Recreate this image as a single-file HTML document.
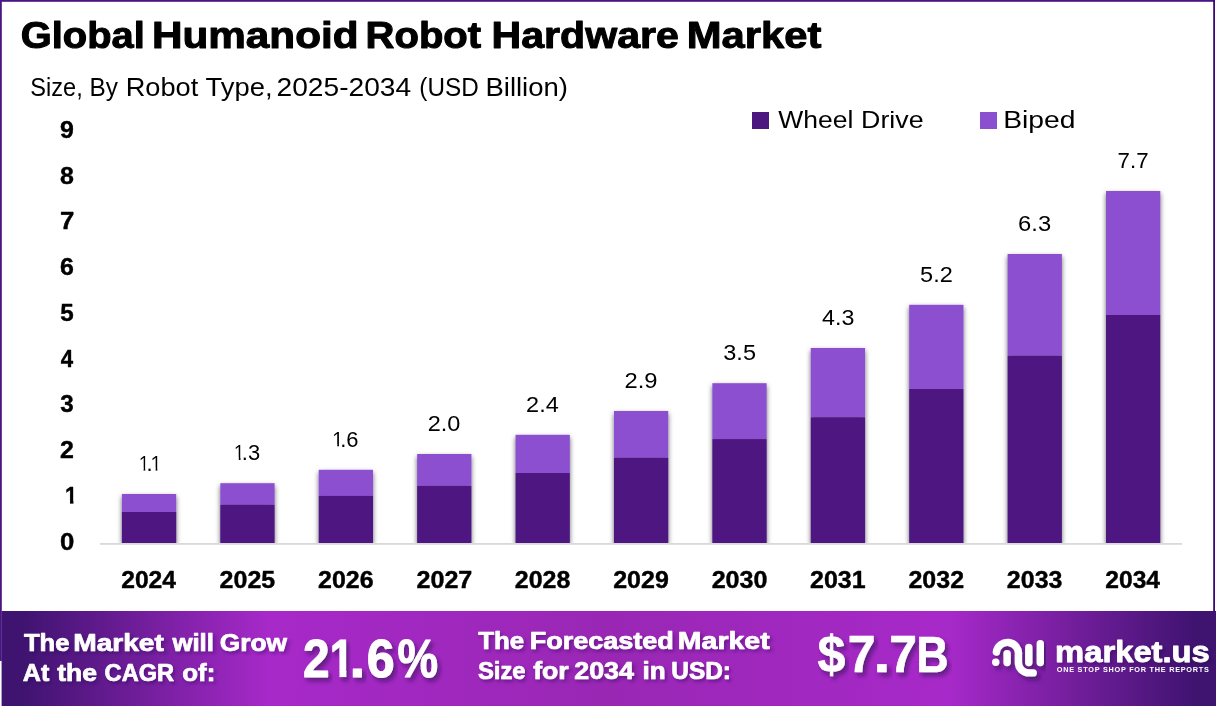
<!DOCTYPE html>
<html lang="en"><head><meta charset="utf-8"><title>Global Humanoid Robot Hardware Market</title>
<style>
html,body{margin:0;padding:0;background:#fff;}
body{width:1216px;height:706px;overflow:hidden;font-family:"Liberation Sans", sans-serif;}
svg{display:block;font-family:"Liberation Sans", sans-serif;}
text{white-space:pre;}
</style></head><body>
<svg width="1216" height="706" viewBox="0 0 1216 706">
<defs>
<linearGradient id="bg" x1="0" y1="0" x2="1" y2="0">
<stop offset="0" stop-color="#3f1370"/><stop offset="0.0165" stop-color="#3f1370"/>
<stop offset="0.22" stop-color="#a729c9"/>
<stop offset="0.5" stop-color="#9927b4"/>
<stop offset="0.78" stop-color="#a729c9"/>
<stop offset="0.9835" stop-color="#3f1370"/><stop offset="1" stop-color="#3f1370"/>
</linearGradient>
<clipPath id="plot"><rect x="90" y="100" width="1110" height="443"/></clipPath>
<filter id="bs" filterUnits="userSpaceOnUse" x="90" y="100" width="1110" height="460"><feDropShadow dx="0" dy="2.5" stdDeviation="2.7" flood-color="#000" flood-opacity="0.6"/></filter>
<filter id="ts" x="-10%" y="-30%" width="120%" height="180%"><feDropShadow dx="2" dy="2.5" stdDeviation="1.8" flood-color="#2a0a50" flood-opacity="0.4"/></filter>
<filter id="tsb" x="-10%" y="-30%" width="120%" height="180%"><feDropShadow dx="3" dy="3.5" stdDeviation="2.2" flood-color="#2a0a50" flood-opacity="0.6"/></filter>
<clipPath id="c1r22_50"><path d="M1.66 -18.00H7.70V0.00H5.61V-2.48H1.66Z"/></clipPath><clipPath id="c1b240_4"><path d="M0.94 -19.20H9.14V0.00H5.35V-3.45H0.94Z"/></clipPath><clipPath id="c1b53_51"><path d="M2.66 -42.80H20.38V0.00H11.94V-6.76H2.66Z"/></clipPath>
</defs>
<rect x="0" y="0" width="1216" height="706" fill="#fff"/>
<!-- frame -->
<rect x="0" y="0" width="1215" height="1.8" fill="#4b1684"/>
<rect x="0" y="0" width="1.8" height="661" fill="#4b1684"/>
<rect x="1213.2" y="0" width="1.8" height="612" fill="#3c0878"/>
<!-- banner -->
<rect x="1.6" y="611" width="1214.4" height="95" fill="url(#bg)"/>
<!-- axis -->
<g clip-path="url(#plot)">
<g filter="url(#bs)"><rect x="121.9" y="494" width="54.3" height="18" fill="#8b50cf"/><rect x="121.9" y="512" width="54.3" height="31" fill="#4d1780"/></g>
<g filter="url(#bs)"><rect x="220.31" y="483.2" width="54.3" height="21.600000000000023" fill="#8b50cf"/><rect x="220.31" y="504.8" width="54.3" height="38.19999999999999" fill="#4d1780"/></g>
<g filter="url(#bs)"><rect x="318.72" y="469.8" width="54.3" height="26.099999999999966" fill="#8b50cf"/><rect x="318.72" y="495.9" width="54.3" height="47.10000000000002" fill="#4d1780"/></g>
<g filter="url(#bs)"><rect x="417.13" y="454" width="54.3" height="31.899999999999977" fill="#8b50cf"/><rect x="417.13" y="485.9" width="54.3" height="57.10000000000002" fill="#4d1780"/></g>
<g filter="url(#bs)"><rect x="515.54" y="434.8" width="54.3" height="38.19999999999999" fill="#8b50cf"/><rect x="515.54" y="473" width="54.3" height="70" fill="#4d1780"/></g>
<g filter="url(#bs)"><rect x="613.95" y="411" width="54.3" height="46.80000000000001" fill="#8b50cf"/><rect x="613.95" y="457.8" width="54.3" height="85.19999999999999" fill="#4d1780"/></g>
<g filter="url(#bs)"><rect x="712.36" y="383.2" width="54.3" height="55.900000000000034" fill="#8b50cf"/><rect x="712.36" y="439.1" width="54.3" height="103.89999999999998" fill="#4d1780"/></g>
<g filter="url(#bs)"><rect x="810.77" y="348" width="54.3" height="69.30000000000001" fill="#8b50cf"/><rect x="810.77" y="417.3" width="54.3" height="125.69999999999999" fill="#4d1780"/></g>
<g filter="url(#bs)"><rect x="909.18" y="304.8" width="54.3" height="84.19999999999999" fill="#8b50cf"/><rect x="909.18" y="389" width="54.3" height="154" fill="#4d1780"/></g>
<g filter="url(#bs)"><rect x="1007.59" y="254" width="54.3" height="101.80000000000001" fill="#8b50cf"/><rect x="1007.59" y="355.8" width="54.3" height="187.2" fill="#4d1780"/></g>
<g filter="url(#bs)"><rect x="1106.0" y="191" width="54.3" height="124" fill="#8b50cf"/><rect x="1106.0" y="315" width="54.3" height="228" fill="#4d1780"/></g>
</g>
<rect x="100" y="543" width="1082" height="1.8" fill="#d9d9d9"/>
<rect x="752" y="112" width="17" height="17" fill="#4d1780"/>
<rect x="980" y="112" width="17" height="17" fill="#8b50cf"/>
<!-- logo -->
<g filter="url(#tsb)" fill="none" stroke="#fff" stroke-width="7.4" stroke-linecap="round" stroke-linejoin="round">
<circle cx="995.7" cy="662.2" r="3.7" fill="#fff" stroke="none"/>
<path d="M996.4 652.0 A11.1 11.1 0 0 1 1018.4 655 L1018.4 662.4 A10.5 10.5 0 0 0 1028.9 672.9 L1033.2 672.9"/>
<path d="M1007.1 653.6 V662.6"/>
<path d="M1028.8 647.5 V662.6"/>
<path d="M1040.3 643.8 V662.6"/>
</g>
<text transform="translate(20.70 48.00) scale(1.1018 1)" font-size="36.2" font-weight="700" fill="#000" stroke="#000" stroke-width="1.0" stroke-linejoin="round">Global</text>
<text transform="translate(151.94 48.00) scale(1.1679 1)" font-size="36.2" font-weight="700" fill="#000" stroke="#000" stroke-width="1.0" stroke-linejoin="round">Humanoid</text>
<text transform="translate(365.55 48.00) scale(1.1058 1)" font-size="36.2" font-weight="700" fill="#000" stroke="#000" stroke-width="1.0" stroke-linejoin="round">Robot</text>
<text transform="translate(491.60 48.00) scale(1.1350 1)" font-size="36.2" font-weight="700" fill="#000" stroke="#000" stroke-width="1.0" stroke-linejoin="round">Hardware</text>
<text transform="translate(686.67 48.00) scale(1.1540 1)" font-size="36.2" font-weight="700" fill="#000" stroke="#000" stroke-width="1.0" stroke-linejoin="round">Market</text>
<text transform="translate(30.36 96.20) scale(0.9065 1)" font-size="26" font-weight="400" fill="#000">Size,</text>
<text transform="translate(89.50 96.20) scale(0.9360 1)" font-size="26" font-weight="400" fill="#000">By</text>
<text transform="translate(125.67 96.20) scale(1.0469 1)" font-size="26" font-weight="400" fill="#000">Robot</text>
<text transform="translate(205.57 96.20) scale(1.0532 1)" font-size="26" font-weight="400" fill="#000">Type,</text>
<text transform="translate(276.58 96.20) scale(1.0827 1)" font-size="26" font-weight="400" fill="#000">2025-2034</text>
<text transform="translate(419.36 96.20) scale(0.9344 1)" font-size="26" font-weight="400" fill="#000">(USD</text>
<text transform="translate(485.45 96.20) scale(1.0583 1)" font-size="26" font-weight="400" fill="#000">Billion)</text>
<text transform="translate(778.30 127.90) scale(1.1047 1)" font-size="24" font-weight="400" fill="#000">Wheel</text>
<text transform="translate(861.11 127.90) scale(1.1156 1)" font-size="24" font-weight="400" fill="#000">Drive</text>
<text transform="translate(1003.19 127.90) scale(1.1778 1)" font-size="24" font-weight="400" fill="#000">Biped</text>
<g aria-label="1.1"><g transform="translate(138.66 470.70) scale(0.8756 1)"><text clip-path="url(#c1r22_50)" font-size="22.5" font-weight="400" fill="#000">1</text></g><text transform="translate(146.54 470.70) scale(0.9752 1)" font-size="22.5" font-weight="400" fill="#000">.</text><g transform="translate(150.48 470.70) scale(0.9120 1)"><text clip-path="url(#c1r22_50)" font-size="22.5" font-weight="400" fill="#000">1</text></g></g>
<text transform="translate(121.19 587.80) scale(1.0481 1)" font-size="23.5" font-weight="700" fill="#000" stroke="#000" stroke-width="0.4" stroke-linejoin="round">2024</text>
<g aria-label="1.3"><g transform="translate(233.87 459.90) scale(0.8756 1)"><text clip-path="url(#c1r22_50)" font-size="22.5" font-weight="400" fill="#000">1</text></g><text transform="translate(241.85 459.90) scale(0.9755 1)" font-size="22.5" font-weight="400" fill="#000">.3</text></g>
<text transform="translate(219.59 587.80) scale(1.0631 1)" font-size="23.5" font-weight="700" fill="#000" stroke="#000" stroke-width="0.4" stroke-linejoin="round">2025</text>
<g aria-label="1.6"><g transform="translate(332.28 446.50) scale(0.8756 1)"><text clip-path="url(#c1r22_50)" font-size="22.5" font-weight="400" fill="#000">1</text></g><text transform="translate(340.26 446.50) scale(0.9755 1)" font-size="22.5" font-weight="400" fill="#000">.6</text></g>
<text transform="translate(318.00 587.80) scale(1.0631 1)" font-size="23.5" font-weight="700" fill="#000" stroke="#000" stroke-width="0.4" stroke-linejoin="round">2026</text>
<text transform="translate(427.68 430.70) scale(1.0451 1)" font-size="22.5" font-weight="400" fill="#000">2.0</text>
<text transform="translate(416.41 587.80) scale(1.0708 1)" font-size="23.5" font-weight="700" fill="#000" stroke="#000" stroke-width="0.4" stroke-linejoin="round">2027</text>
<text transform="translate(526.09 411.50) scale(1.0451 1)" font-size="22.5" font-weight="400" fill="#000">2.4</text>
<text transform="translate(514.82 587.80) scale(1.0631 1)" font-size="23.5" font-weight="700" fill="#000" stroke="#000" stroke-width="0.4" stroke-linejoin="round">2028</text>
<text transform="translate(624.48 387.70) scale(1.0576 1)" font-size="22.5" font-weight="400" fill="#000">2.9</text>
<text transform="translate(613.23 587.80) scale(1.0631 1)" font-size="23.5" font-weight="700" fill="#000" stroke="#000" stroke-width="0.4" stroke-linejoin="round">2029</text>
<text transform="translate(723.28 359.90) scale(1.0451 1)" font-size="22.5" font-weight="400" fill="#000">3.5</text>
<text transform="translate(711.64 587.80) scale(1.0708 1)" font-size="23.5" font-weight="700" fill="#000" stroke="#000" stroke-width="0.4" stroke-linejoin="round">2030</text>
<text transform="translate(822.06 324.70) scale(1.0328 1)" font-size="22.5" font-weight="400" fill="#000">4.3</text>
<text transform="translate(810.05 587.80) scale(1.0631 1)" font-size="23.5" font-weight="700" fill="#000" stroke="#000" stroke-width="0.4" stroke-linejoin="round">2031</text>
<text transform="translate(920.10 281.50) scale(1.0451 1)" font-size="22.5" font-weight="400" fill="#000">5.2</text>
<text transform="translate(908.46 587.80) scale(1.0631 1)" font-size="23.5" font-weight="700" fill="#000" stroke="#000" stroke-width="0.4" stroke-linejoin="round">2032</text>
<text transform="translate(1018.12 230.70) scale(1.0576 1)" font-size="22.5" font-weight="400" fill="#000">6.3</text>
<text transform="translate(1006.87 587.80) scale(1.0631 1)" font-size="23.5" font-weight="700" fill="#000" stroke="#000" stroke-width="0.4" stroke-linejoin="round">2033</text>
<text transform="translate(1117.61 167.70) scale(0.9894 1)" font-size="22.5" font-weight="400" fill="#000">7.7</text>
<text transform="translate(1105.29 587.80) scale(1.0481 1)" font-size="23.5" font-weight="700" fill="#000" stroke="#000" stroke-width="0.4" stroke-linejoin="round">2034</text>
<text transform="translate(59.91 549.60) scale(1.0728 1)" font-size="24" font-weight="700" fill="#000" stroke="#000" stroke-width="0.4" stroke-linejoin="round">0</text>
<g transform="translate(65.08 503.86) scale(0.9146 1)"><text clip-path="url(#c1b240_4)" font-size="24" font-weight="700" fill="#000" stroke="#000" stroke-width="0.4" stroke-linejoin="round">1</text></g>
<text transform="translate(59.93 458.12) scale(1.0403 1)" font-size="24" font-weight="700" fill="#000" stroke="#000" stroke-width="0.4" stroke-linejoin="round">2</text>
<text transform="translate(60.32 412.38) scale(1.0098 1)" font-size="24" font-weight="700" fill="#000" stroke="#000" stroke-width="0.4" stroke-linejoin="round">3</text>
<text transform="translate(60.69 366.64) scale(0.9281 1)" font-size="24" font-weight="700" fill="#000" stroke="#000" stroke-width="0.4" stroke-linejoin="round">4</text>
<text transform="translate(60.32 320.90) scale(1.0098 1)" font-size="24" font-weight="700" fill="#000" stroke="#000" stroke-width="0.4" stroke-linejoin="round">5</text>
<text transform="translate(59.93 275.16) scale(1.0403 1)" font-size="24" font-weight="700" fill="#000" stroke="#000" stroke-width="0.4" stroke-linejoin="round">6</text>
<text transform="translate(59.91 229.42) scale(1.0728 1)" font-size="24" font-weight="700" fill="#000" stroke="#000" stroke-width="0.4" stroke-linejoin="round">7</text>
<text transform="translate(59.93 183.68) scale(1.0403 1)" font-size="24" font-weight="700" fill="#000" stroke="#000" stroke-width="0.4" stroke-linejoin="round">8</text>
<text transform="translate(59.93 137.94) scale(1.0403 1)" font-size="24" font-weight="700" fill="#000" stroke="#000" stroke-width="0.4" stroke-linejoin="round">9</text>
<text transform="translate(23.97 651.00) scale(1.0662 1)" font-size="24" font-weight="700" fill="#fff" stroke="#fff" stroke-width="0.7" stroke-linejoin="round" filter="url(#ts)">The</text>
<text transform="translate(73.25 651.00) scale(1.1720 1)" font-size="24" font-weight="700" fill="#fff" stroke="#fff" stroke-width="0.7" stroke-linejoin="round" filter="url(#ts)">Market</text>
<text transform="translate(172.38 651.00) scale(1.0749 1)" font-size="24" font-weight="700" fill="#fff" stroke="#fff" stroke-width="0.7" stroke-linejoin="round" filter="url(#ts)">will</text>
<text transform="translate(219.76 651.00) scale(1.0983 1)" font-size="24" font-weight="700" fill="#fff" stroke="#fff" stroke-width="0.7" stroke-linejoin="round" filter="url(#ts)">Grow</text>
<text transform="translate(22.77 680.60) scale(1.0457 1)" font-size="24" font-weight="700" fill="#fff" stroke="#fff" stroke-width="0.7" stroke-linejoin="round" filter="url(#ts)">At</text>
<text transform="translate(57.29 680.60) scale(1.1052 1)" font-size="24" font-weight="700" fill="#fff" stroke="#fff" stroke-width="0.7" stroke-linejoin="round" filter="url(#ts)">the</text>
<text transform="translate(104.61 680.60) scale(0.9835 1)" font-size="24" font-weight="700" fill="#fff" stroke="#fff" stroke-width="0.7" stroke-linejoin="round" filter="url(#ts)">CAGR</text>
<text transform="translate(182.27 680.60) scale(1.0768 1)" font-size="24" font-weight="700" fill="#fff" stroke="#fff" stroke-width="0.7" stroke-linejoin="round" filter="url(#ts)">of:</text>
<g aria-label="21.6%"><text transform="translate(302.95 677.30) scale(0.8937 1)" font-size="53.5" font-weight="700" fill="#fff" stroke="#fff" stroke-width="1" stroke-linejoin="round" filter="url(#tsb)">2</text><g transform="translate(329.73 677.30) scale(0.8154 1)" filter="url(#tsb)"><text clip-path="url(#c1b53_51)" font-size="53.5" font-weight="700" fill="#fff" stroke="#fff" stroke-width="1" stroke-linejoin="round">1</text></g><text transform="translate(349.49 677.30) scale(1.0578 1)" font-size="53.5" font-weight="700" fill="#fff" stroke="#fff" stroke-width="1" stroke-linejoin="round" filter="url(#tsb)">.</text><text transform="translate(366.80 677.30) scale(0.9369 1)" font-size="53.5" font-weight="700" fill="#fff" stroke="#fff" stroke-width="1" stroke-linejoin="round" filter="url(#tsb)">6</text><text transform="translate(397.61 677.30) scale(0.8515 1)" font-size="53.5" font-weight="700" fill="#fff" stroke="#fff" stroke-width="1" stroke-linejoin="round" filter="url(#tsb)">%</text></g>
<text transform="translate(478.28 648.70) scale(1.0779 1)" font-size="24" font-weight="700" fill="#fff" stroke="#fff" stroke-width="0.7" stroke-linejoin="round" filter="url(#ts)">The</text>
<text transform="translate(529.70 648.70) scale(1.1264 1)" font-size="24" font-weight="700" fill="#fff" stroke="#fff" stroke-width="0.7" stroke-linejoin="round" filter="url(#ts)">Forecasted</text>
<text transform="translate(677.83 648.70) scale(1.1877 1)" font-size="24" font-weight="700" fill="#fff" stroke="#fff" stroke-width="0.7" stroke-linejoin="round" filter="url(#ts)">Market</text>
<text transform="translate(477.88 679.00) scale(0.9927 1)" font-size="24" font-weight="700" fill="#fff" stroke="#fff" stroke-width="0.7" stroke-linejoin="round" filter="url(#ts)">Size</text>
<text transform="translate(533.17 679.00) scale(1.1102 1)" font-size="24" font-weight="700" fill="#fff" stroke="#fff" stroke-width="0.7" stroke-linejoin="round" filter="url(#ts)">for</text>
<text transform="translate(574.25 679.00) scale(1.1179 1)" font-size="24" font-weight="700" fill="#fff" stroke="#fff" stroke-width="0.7" stroke-linejoin="round" filter="url(#ts)">2034</text>
<text transform="translate(642.45 679.00) scale(1.0843 1)" font-size="24" font-weight="700" fill="#fff" stroke="#fff" stroke-width="0.7" stroke-linejoin="round" filter="url(#ts)">in</text>
<text transform="translate(671.31 679.00) scale(1.0152 1)" font-size="24" font-weight="700" fill="#fff" stroke="#fff" stroke-width="0.7" stroke-linejoin="round" filter="url(#ts)">USD:</text>
<g aria-label="$7.7B"><text transform="translate(817.49 672.00) scale(0.9553 1)" font-size="52.5" font-weight="700" fill="#fff" stroke="#fff" stroke-width="0.6" stroke-linejoin="round" filter="url(#tsb)">$</text><text transform="translate(847.82 672.00) scale(0.9528 1)" font-size="52.5" font-weight="700" fill="#fff" stroke="#fff" stroke-width="0.6" stroke-linejoin="round" filter="url(#tsb)">7</text><text transform="translate(873.28 672.00) scale(1.1814 1)" font-size="52.5" font-weight="700" fill="#fff" stroke="#fff" stroke-width="0.6" stroke-linejoin="round" filter="url(#tsb)">.</text><text transform="translate(889.13 672.00) scale(0.9489 1)" font-size="52.5" font-weight="700" fill="#fff" stroke="#fff" stroke-width="0.6" stroke-linejoin="round" filter="url(#tsb)">7</text><text transform="translate(916.27 672.00) scale(0.8948 1)" font-size="50" font-weight="700" fill="#fff" stroke="#fff" stroke-width="0.6" stroke-linejoin="round" filter="url(#tsb)">B</text></g>
<text transform="translate(1055.10 661.50) scale(1.1296 1)" font-size="29" font-weight="700" fill="#fff" stroke="#fff" stroke-width="0.8" stroke-linejoin="round" filter="url(#ts)">market.us</text>
<text x="1056.77" y="671.70" letter-spacing="0.740" font-size="7.3" font-weight="700" fill="#fff">ONE STOP SHOP FOR THE REPORTS</text>
</svg>
</body></html>
